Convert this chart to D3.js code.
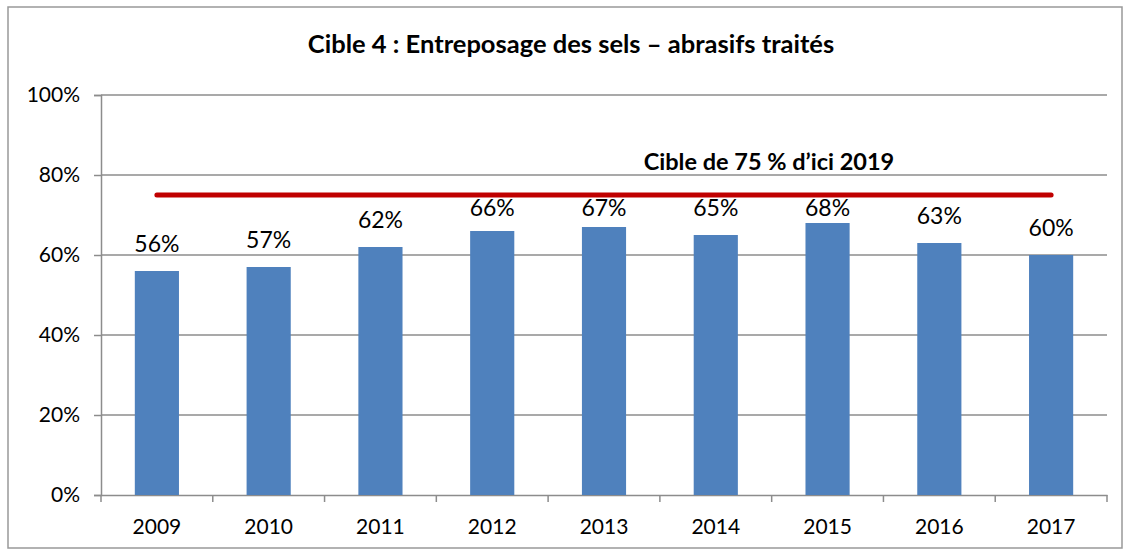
<!DOCTYPE html>
<html>
<head>
<meta charset="utf-8">
<script src="https://cdn.jsdelivr.net/npm/d3@7"></script>
<style>
  body { margin: 0; background: #fff; }
  svg { font-family: Lato, "Open Sans", sans-serif; }
</style>
</head>
<body>
<svg width="1128" height="552"></svg>
<script>
const years = ["2009", "2010", "2011", "2012", "2013", "2014", "2015", "2016", "2017"];
const values = [56, 57, 62, 66, 67, 65, 68, 63, 60];
const yTicks = [0, 20, 40, 60, 80, 100];
const target = 75;
const titleText = "Cible 4 : Entreposage des sels \u2013 abrasifs traités";
const targetText = "Cible de 75 % d\u2019ici 2019";

const svg = d3.select("svg");
const margin = {top: 95, right: 21, bottom: 57, left: 101},
      width = +svg.attr("width") - margin.left - margin.right,
      height = +svg.attr("height") - margin.top - margin.bottom;

// outer frame
svg.append("rect")
    .attr("x", 8).attr("y", 7)
    .attr("width", 1114).attr("height", 541)
    .attr("fill", "none")
    .attr("stroke", "#999")
    .attr("stroke-width", 1.5);

svg.append("text")
    .attr("x", 571).attr("y", 53)
    .attr("text-anchor", "middle")
    .attr("font-weight", "bold")
    .attr("font-size", 25.5)
    .text(titleText);

const g = svg.append("g").attr("transform", `translate(${margin.left},${margin.top})`);

const x = d3.scaleBand().domain(years).range([0, width]);
const y = d3.scaleLinear().domain([0, 100]).range([height, 0]);

// gridlines
g.append("g")
    .selectAll("line")
    .data(yTicks.slice(1))
    .join("line")
    .attr("x1", 0).attr("x2", width)
    .attr("y1", d => y(d)).attr("y2", d => y(d))
    .attr("stroke", "#8c8c8c")
    .attr("stroke-width", 1.5);

// y axis
const yAxis = g.append("g")
    .call(d3.axisLeft(y).tickValues(yTicks).tickFormat(d => d + "%").tickSize(7).tickPadding(14));
yAxis.select(".domain").attr("stroke", "#8c8c8c").attr("stroke-width", 1.5);
yAxis.selectAll(".tick line").attr("stroke", "#8c8c8c").attr("stroke-width", 1.5);
yAxis.selectAll("text").attr("font-size", 21).attr("font-family", "Lato").attr("fill", "#000");

// x axis
const xAxis = g.append("g")
    .attr("transform", `translate(0,${height})`)
    .call(d3.axisBottom(x).tickSize(0).tickPadding(24));
xAxis.select(".domain").attr("stroke", "#8c8c8c").attr("stroke-width", 1.5);
xAxis.selectAll("text").attr("font-size", 21).attr("font-family", "Lato").attr("fill", "#000");
// tick marks between categories
g.append("g")
    .selectAll("line")
    .data(d3.range(years.length + 1))
    .join("line")
    .attr("x1", i => i * x.step()).attr("x2", i => i * x.step())
    .attr("y1", height).attr("y2", height + 7)
    .attr("stroke", "#8c8c8c")
    .attr("stroke-width", 1.5);

// bars
const barW = x.bandwidth() * 0.395;
g.selectAll(".bar")
    .data(values)
    .join("rect")
    .attr("class", "bar")
    .attr("x", (d, i) => x(years[i]) + (x.bandwidth() - barW) / 2)
    .attr("y", d => y(d))
    .attr("width", barW)
    .attr("height", d => height - y(d))
    .attr("fill", "#4f81bd");

// value labels, kept below the target line
g.selectAll(".lbl")
    .data(values)
    .join("text")
    .attr("class", "lbl")
    .attr("x", (d, i) => x(years[i]) + x.bandwidth() / 2)
    .attr("y", d => Math.max(y(d) - 19, y(target) + 21))
    .attr("text-anchor", "middle")
    .attr("font-size", 23)
    .text(d => d + "%");

// target line
g.append("line")
    .attr("x1", x(years[0]) + x.bandwidth() / 2)
    .attr("x2", x(years[years.length - 1]) + x.bandwidth() / 2)
    .attr("y1", y(target)).attr("y2", y(target))
    .attr("stroke", "#c00000")
    .attr("stroke-width", 5)
    .attr("stroke-linecap", "round");

g.append("text")
    .attr("x", 668).attr("y", y(target) - 25)
    .attr("text-anchor", "middle")
    .attr("font-weight", "bold")
    .attr("font-size", 23.5)
    .text(targetText);
</script>
</body>
</html>
